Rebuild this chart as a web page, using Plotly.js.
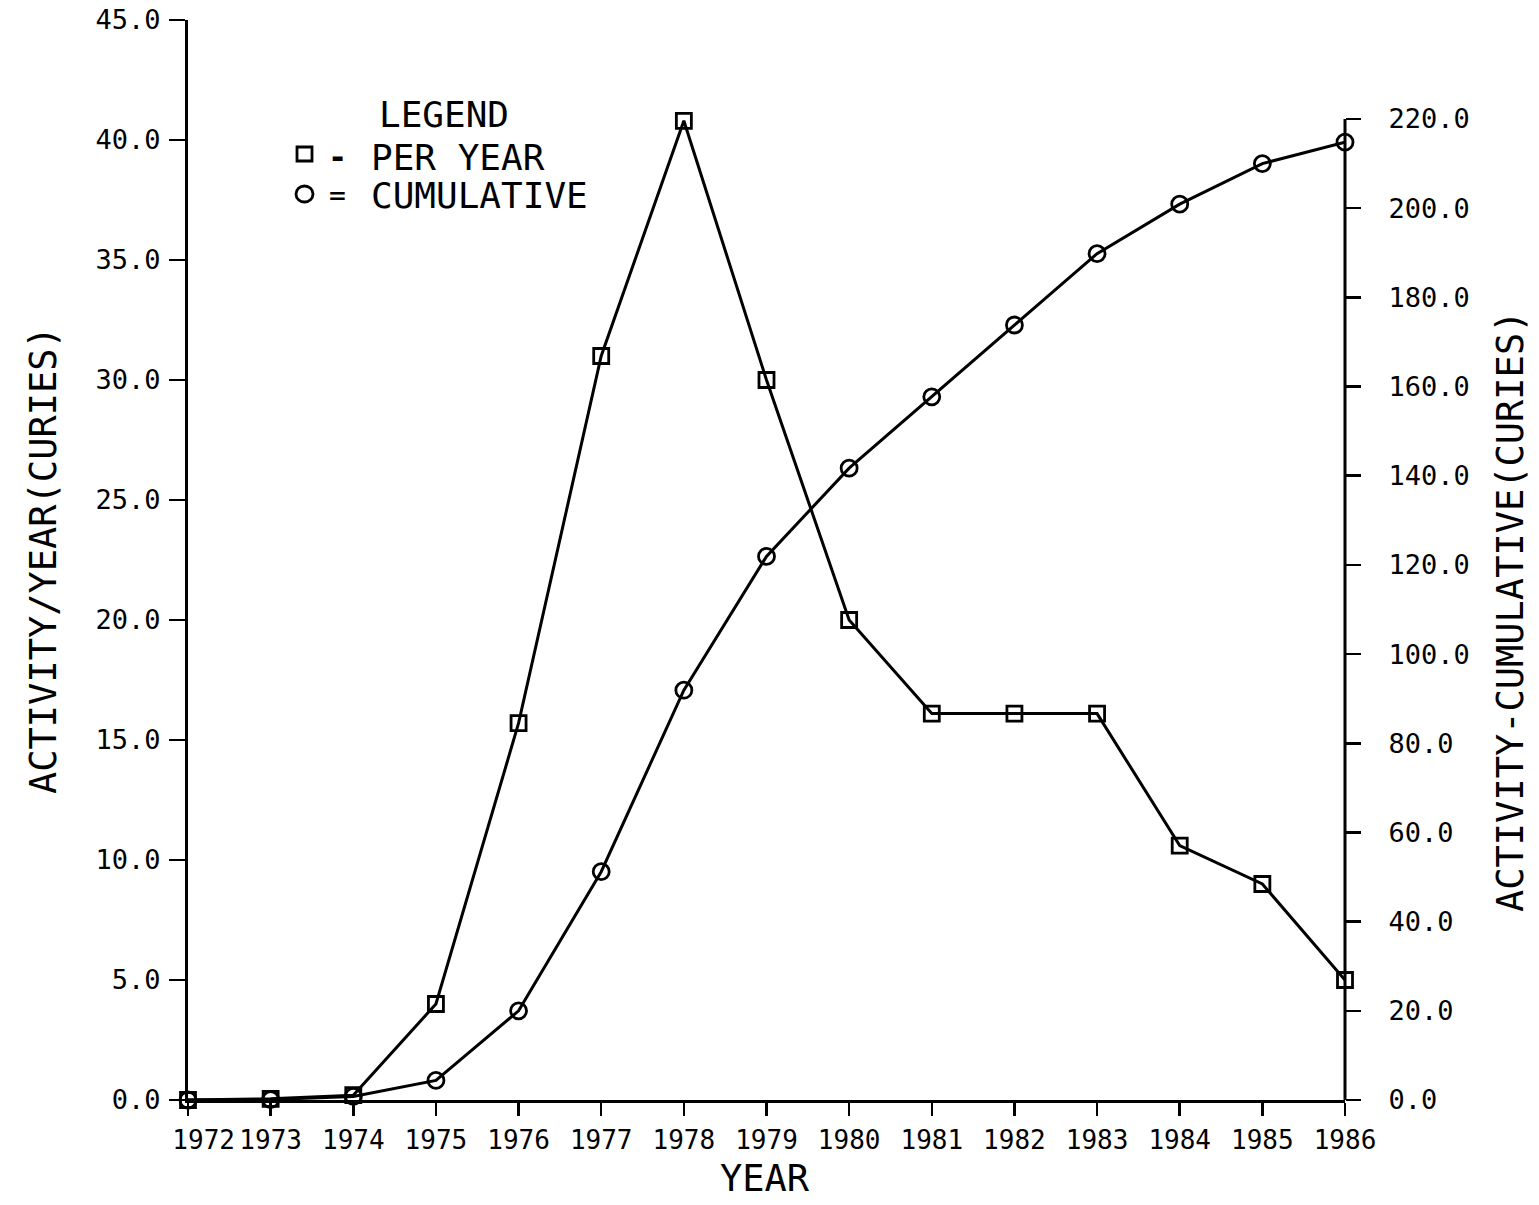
<!DOCTYPE html>
<html>
<head>
<meta charset="utf-8">
<script src="https://cdn.plot.ly/plotly-3.0.1.min.js"></script>
<style>
  html, body { margin: 0; padding: 0; background: #ffffff; }
  #chart { width: 1539px; height: 1205px; }
</style>
</head>
<body>
<div id="chart"></div>
<script>
// ---- data ----
var years = [1972, 1973, 1974, 1975, 1976, 1977, 1978, 1979, 1980, 1981, 1982, 1983, 1984, 1985, 1986];
var perYear = [0.0, 0.05, 0.2, 4.0, 15.7, 31.0, 40.8, 30.0, 20.0, 16.1, 16.1, 16.1, 10.6, 9.0, 5.0];
var cumulative = [0.0, 0.1, 0.8, 4.4, 20.0, 51.2, 91.9, 121.9, 141.7, 157.7, 173.8, 189.8, 200.9, 210.0, 214.8];
var yearLabels = ['\u00a0\u00a01972', '1973', '1974', '1975', '1976', '1977', '1978', '1979', '1980', '1981', '1982', '1983', '1984', '1985', '1986'];
var leftTicks = [0, 5, 10, 15, 20, 25, 30, 35, 40, 45];
var rightTicks = [0, 20, 40, 60, 80, 100, 120, 140, 160, 180, 200, 220];

var FONT = 'DejaVu Sans Mono, monospace';
var INK = '#000000';

// plot area geometry (pixels)
var W = 1539, H = 1205;
var L = 188, R = 1345, T = 20, B = 1100;
function px(x) { return (x - L) / (R - L); }
function py(y) { return (B - y) / (B - T); }

var traces = [
  {
    x: years, y: perYear, type: 'scatter', mode: 'lines+markers',
    name: 'PER YEAR', yaxis: 'y', cliponaxis: false,
    line: { color: INK, width: 3 },
    marker: { symbol: 'square-open', size: 15, color: INK, line: { color: INK, width: 2.8 } }
  },
  {
    x: years, y: cumulative, type: 'scatter', mode: 'lines+markers',
    name: 'CUMULATIVE', yaxis: 'y2', cliponaxis: false,
    line: { color: INK, width: 3 },
    marker: { symbol: 'circle-open', size: 16, color: INK, line: { color: INK, width: 2.8 } }
  }
];

var layout = {
  width: W, height: H,
  margin: { l: L, r: W - R, t: T, b: H - B, pad: 0 },
  paper_bgcolor: '#ffffff', plot_bgcolor: '#ffffff',
  showlegend: false,
  font: { family: FONT, color: INK },
  xaxis: {
    range: [1972, 1986], tickvals: years, ticktext: yearLabels, tickangle: 0,
    showgrid: false, zeroline: false, showline: true, linecolor: INK, linewidth: 3,
    ticks: 'outside', ticklen: 13, tickwidth: 2.5, tickcolor: INK,
    ticklabelstandoff: 2,
    tickfont: { family: FONT, size: 26, color: INK }
  },
  yaxis: {
    range: [0, 45], tickvals: leftTicks, tickformat: '.1f',
    showgrid: false, zeroline: false, showline: true, linecolor: INK, linewidth: 3,
    ticks: 'outside', ticklen: 16, tickwidth: 2.5, tickcolor: INK,
    ticklabelstandoff: 3,
    tickfont: { family: FONT, size: 27, color: INK }
  },
  yaxis2: {
    overlaying: 'y', side: 'right',
    range: [0, 242.2], tickvals: rightTicks, tickformat: '.1f',
    showgrid: false, zeroline: false, showline: false,
    ticks: 'outside', ticklen: 15, tickwidth: 2.5, tickcolor: INK,
    ticklabelstandoff: 22,
    tickfont: { family: FONT, size: 27, color: INK }
  },
  shapes: [
    // right axis line, drawn only up to the 220 tick
    { type: 'line', xref: 'paper', yref: 'y2', x0: 1, x1: 1, y0: 0, y1: 220,
      line: { color: INK, width: 3 } },
    // legend symbols
    { type: 'rect', xref: 'paper', yref: 'paper',
      x0: px(297), x1: px(312), y0: py(161), y1: py(147),
      line: { color: INK, width: 2.8 } },
    { type: 'circle', xref: 'paper', yref: 'paper',
      x0: px(296), x1: px(313), y0: py(202), y1: py(186),
      line: { color: INK, width: 2.8 } }
  ],
  annotations: [
    { text: 'ACTIVITY/YEAR(CURIES)', xref: 'paper', yref: 'paper',
      x: px(43), y: py(560), xanchor: 'center', yanchor: 'middle', textangle: -90,
      showarrow: false, font: { family: FONT, size: 37, color: INK } },
    { text: 'ACTIVITY-CUMULATIVE(CURIES)', xref: 'paper', yref: 'paper',
      x: px(1510), y: py(612), xanchor: 'center', yanchor: 'middle', textangle: -90,
      showarrow: false, font: { family: FONT, size: 37, color: INK } },
    { text: 'YEAR', xref: 'paper', yref: 'paper',
      x: px(765), y: py(1178), xanchor: 'center', yanchor: 'middle',
      showarrow: false, font: { family: FONT, size: 37, color: INK } },
    { text: 'LEGEND', xref: 'paper', yref: 'paper',
      x: px(377), y: py(115), xanchor: 'left', yanchor: 'middle',
      showarrow: false, font: { family: FONT, size: 36, color: INK } },
    { text: '-', xref: 'paper', yref: 'paper',
      x: px(337), y: py(157), xanchor: 'center', yanchor: 'middle',
      showarrow: false, font: { family: FONT, size: 32, color: INK, weight: 'bold' } },
    { text: 'PER YEAR', xref: 'paper', yref: 'paper',
      x: px(369), y: py(157), xanchor: 'left', yanchor: 'middle',
      showarrow: false, font: { family: FONT, size: 36, color: INK } },
    { text: '=', xref: 'paper', yref: 'paper',
      x: px(337), y: py(195), xanchor: 'center', yanchor: 'middle',
      showarrow: false, font: { family: FONT, size: 28, color: INK } },
    { text: 'CUMULATIVE', xref: 'paper', yref: 'paper',
      x: px(369), y: py(195), xanchor: 'left', yanchor: 'middle',
      showarrow: false, font: { family: FONT, size: 36, color: INK } }
  ]
};

Plotly.newPlot('chart', traces, layout, { displayModeBar: false, staticPlot: true });
</script>
</body>
</html>
